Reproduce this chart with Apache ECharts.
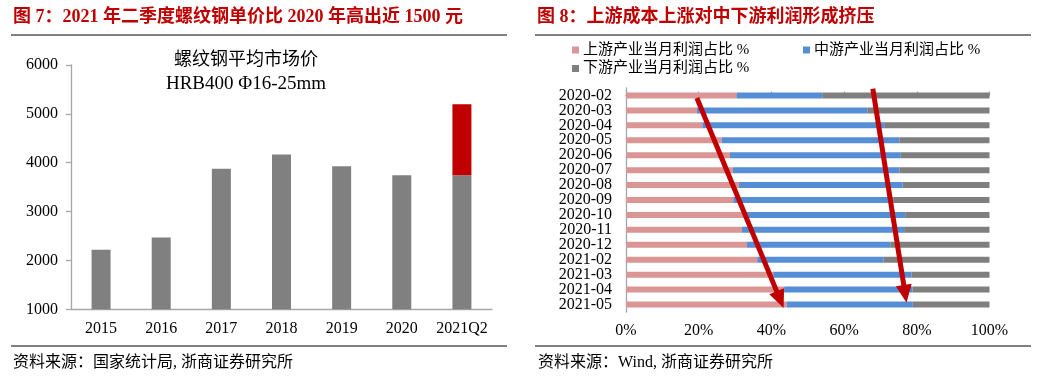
<!DOCTYPE html>
<html><head><meta charset="utf-8">
<script src="https://cdn.jsdelivr.net/npm/echarts@6/dist/echarts.min.js"></script>
<style>html,body{margin:0;padding:0;background:#fff}#c{width:1040px;height:382px}</style>
</head><body><div id="c"></div>
<script>
// ---- Left chart data ----
const priceYears = ['2015', '2016', '2017', '2018', '2019', '2020', '2021Q2'];
const priceBase = [2217, 2469, 3877, 4170, 3930, 3746, 3746];
const priceRise = [null, null, null, null, null, null, 1450];
const priceAxisMin = 1000, priceAxisMax = 6000, priceAxisStep = 1000;

// ---- Right chart data ----
const months = ['2020-02','2020-03','2020-04','2020-05','2020-06','2020-07','2020-08','2020-09',
                '2020-10','2020-11','2020-12','2021-02','2021-03','2021-04','2021-05'];
const upstream   = [30.4, 19.5, 21.0, 26.3, 28.6, 29.4, 31.1, 29.5, 32.5, 31.9, 33.3, 36.1, 40.5, 43.5, 44.2];
const midstream  = [23.6, 46.9, 50.2, 48.9, 47.0, 45.8, 45.0, 44.0, 44.3, 44.6, 39.4, 34.8, 38.0, 35.3, 34.7];
const downstream = [46.0, 33.6, 28.8, 24.8, 24.4, 24.8, 23.9, 26.5, 23.2, 23.5, 27.3, 29.1, 21.5, 21.2, 21.1];
const shareTicks = [0, 100, 20];
const seriesNames = ['上游产业当月利润占比 %', '中游产业当月利润占比 %', '下游产业当月利润占比 %'];
// annotation arrows: [share %, row position]
const arrowUp   = [[19.5, 0.17], [42.4, 13.67]];
const arrowDown = [[67.9, -0.45], [76.8, 13.28]];

const SERIF = '"Liberation Serif", "Noto Sans CJK SC", serif';
const AX = '#A6A6A6';
const RED = '#C00000';

const chart = echarts.init(document.getElementById('c'), null, {renderer: 'canvas'});
chart.setOption({
  animation: false,
  backgroundColor: '#fff',
  textStyle: {fontFamily: SERIF, color: '#000'},
  grid: [
    {left: 71, top: 65, width: 421, height: 244.3},
    {left: 626, top: 88, width: 363.5, height: 224}
  ],
  legend: [0, 1, 2].map((i) => ({
    data: [seriesNames[i]],
    left: [572, 803, 572][i], top: [42.5, 42.5, 61][i],
    padding: 0, itemWidth: 7, itemHeight: 7, icon: 'rect', itemGap: 5,
    selectedMode: false,
    textStyle: {fontFamily: SERIF, fontSize: 15, color: '#000', padding: [0, 0, 0, -1]}
  })),
  xAxis: [
    {gridIndex: 0, type: 'category', data: priceYears,
     axisLine: {lineStyle: {color: AX, width: 1.3}},
     axisTick: {length: 5, lineStyle: {color: AX, width: 1.3}},
     axisLabel: {fontFamily: SERIF, fontSize: 16, color: '#000', margin: 11, interval: 0}},
    {gridIndex: 1, type: 'value', position: 'top', offset: 4,
     min: shareTicks[0], max: shareTicks[1], interval: shareTicks[2],
     splitLine: {show: false},
     axisLine: {show: true, lineStyle: {color: AX, width: 1.3}},
     axisTick: {show: true, length: 4, lineStyle: {color: AX, width: 1.3}},
     axisLabel: {show: false}},
    {gridIndex: 1, type: 'value', position: 'bottom',
     min: shareTicks[0], max: shareTicks[1], interval: shareTicks[2],
     splitLine: {show: false}, axisLine: {show: false}, axisTick: {show: false},
     axisLabel: {fontFamily: SERIF, fontSize: 16, color: '#000', margin: 11, formatter: '{value}%'}}
  ],
  yAxis: [
    {gridIndex: 0, type: 'value', min: priceAxisMin, max: priceAxisMax, interval: priceAxisStep,
     splitLine: {show: false},
     axisLine: {show: true, lineStyle: {color: AX, width: 1.3}},
     axisTick: {show: true, length: 5, lineStyle: {color: AX, width: 1.3}},
     axisLabel: {fontFamily: SERIF, fontSize: 16, color: '#000', margin: 13,
                 formatter: (v) => String(v)}},
    {gridIndex: 1, type: 'category', data: months, inverse: true,
     axisLine: {lineStyle: {color: AX, width: 1.3}},
     axisTick: {length: 4, lineStyle: {color: AX, width: 1.3}},
     axisLabel: {fontFamily: SERIF, fontSize: 16, color: '#000', margin: 14, interval: 0}},
    {gridIndex: 1, type: 'value', min: -0.5, max: 14.5, inverse: true, show: false,
     splitLine: {show: false}}
  ],
  series: [
    {type: 'bar', xAxisIndex: 0, yAxisIndex: 0, stack: 'price', data: priceBase,
     barWidth: 19, itemStyle: {color: '#808080'}, silent: true},
    {type: 'bar', xAxisIndex: 0, yAxisIndex: 0, stack: 'price', data: priceRise,
     barWidth: 19, itemStyle: {color: RED}, silent: true},
    {name: seriesNames[0], type: 'bar', xAxisIndex: 2, yAxisIndex: 1, stack: 'share', data: upstream,
     barWidth: 6, itemStyle: {color: '#D99694'}, silent: true},
    {name: seriesNames[1], type: 'bar', xAxisIndex: 2, yAxisIndex: 1, stack: 'share', data: midstream,
     barWidth: 6, itemStyle: {color: '#558ED5'}, silent: true},
    {name: seriesNames[2], type: 'bar', xAxisIndex: 2, yAxisIndex: 1, stack: 'share', data: downstream,
     barWidth: 6, itemStyle: {color: '#7F7F7F'}, silent: true},
    {type: 'line', xAxisIndex: 2, yAxisIndex: 2, data: [], silent: true,
     markLine: {
       silent: true, symbol: ['none', 'triangle'], symbolSize: [16, 18],
       label: {show: false},
       lineStyle: {color: RED, width: 5, type: 'solid'},
       emphasis: {disabled: true},
       data: [
         [{coord: arrowUp[0]}, {coord: arrowUp[1]}],
         [{coord: arrowDown[0]}, {coord: arrowDown[1]}]
       ]
     }}
  ],
  graphic: [
    {type: 'text', left: 13, top: 8, style: {text: '图 7：2021 年二季度螺纹钢单价比 2020 年高出近 1500 元',
      font: 'bold 18px ' + SERIF, fill: RED}},
    {type: 'text', left: 537, top: 8, style: {text: '图 8：上游成本上涨对中下游利润形成挤压',
      font: 'bold 18px ' + SERIF, fill: RED}},
    {type: 'line', shape: {x1: 11, y1: 35, x2: 507, y2: 35}, style: {stroke: '#000', lineWidth: 1}},
    {type: 'line', shape: {x1: 535, y1: 35, x2: 1031, y2: 35}, style: {stroke: '#000', lineWidth: 1}},
    {type: 'line', shape: {x1: 11, y1: 346, x2: 507, y2: 346}, style: {stroke: '#000', lineWidth: 1}},
    {type: 'line', shape: {x1: 535, y1: 346, x2: 1031, y2: 346}, style: {stroke: '#000', lineWidth: 1}},
    {type: 'text', x: 246, y: 60, style: {text: '螺纹钢平均市场价', font: '18px ' + SERIF,
      fill: '#000', align: 'center', verticalAlign: 'middle'}},
    {type: 'text', x: 246, y: 84, style: {text: 'HRB400 Φ16-25mm', font: '19px ' + SERIF,
      fill: '#000', align: 'center', verticalAlign: 'middle'}},
    {type: 'text', x: 13, y: 363, style: {text: '资料来源：国家统计局, 浙商证券研究所', font: '16px ' + SERIF,
      fill: '#000', verticalAlign: 'middle'}},
    {type: 'text', x: 538, y: 363, style: {text: '资料来源：Wind, 浙商证券研究所', font: '16px ' + SERIF,
      fill: '#000', verticalAlign: 'middle'}}
  ]
});
</script></body></html>
